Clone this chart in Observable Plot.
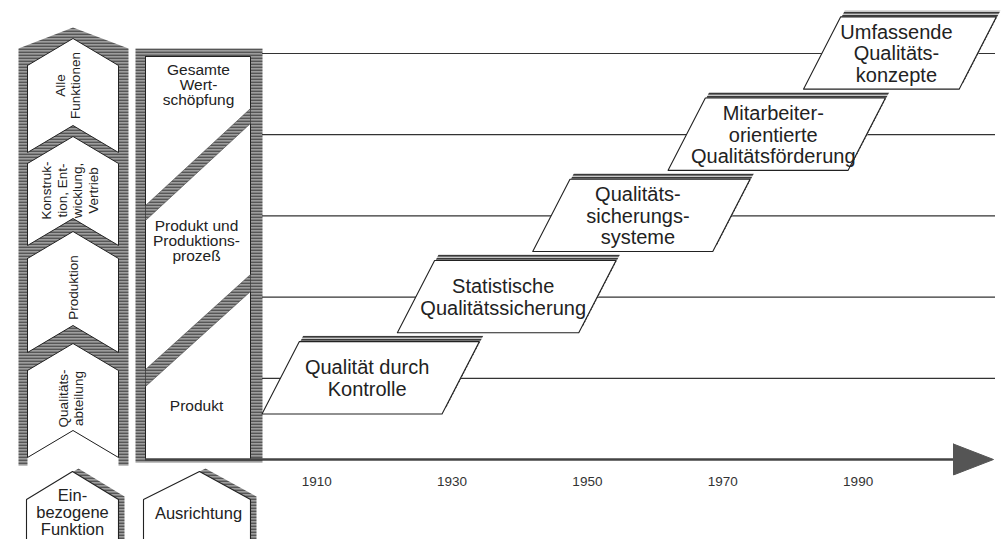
<!DOCTYPE html>
<html>
<head>
<meta charset="utf-8">
<script src="https://cdn.jsdelivr.net/npm/d3@7"></script>
<script src="https://cdn.jsdelivr.net/npm/@observablehq/plot@0.6"></script>
<style>
  html, body { margin: 0; padding: 0; background: #fff; }
  #chart svg { display: block; }
</style>
</head>
<body>
<div id="chart"></div>
<script>
// ---------------- data ----------------
const stageNames = [
  "Qualität durch\nKontrolle",
  "Statistische\nQualitätssicherung",
  "Qualitäts-\nsicherungs-\nsysteme",
  "Mitarbeiter-\norientierte\nQualitätsförderung",
  "Umfassende\nQualitäts-\nkonzepte"
];
const stageStart = [1902, 1922, 1942, 1962, 1982];
const stageEnd   = [1928.6, 1948.8, 1968.6, 1988.6, 2005];
const stageLevel = [1, 2, 3, 4, 5];
const tickYears  = [1910, 1930, 1950, 1970, 1990];
const functionLabels = [
  "Alle\nFunktionen",
  "Konstruk-\ntion, Ent-\nwicklung,\nVertrieb",
  "Produktion",
  "Qualitäts-\nabteilung"
];
const orientationLabels = [
  "Gesamte\nWert-\nschöpfung",
  "Produkt und\nProduktions-\nprozeß",
  "Produkt"
];
const footerLabels = ["Ein-\nbezogene\nFunktion", "Ausrichtung"];

// ---------------- layout ----------------
const W = 1002, H = 539;
const mL = 262, mR = 9, mT = 53, mB = 80;
const xDomain = [1902, 2010], yDomain = [0, 5];
// convert panel layout (pixel units) into the chart's data units
const X = px => xDomain[0] + (px - mL) * (xDomain[1] - xDomain[0]) / (W - mL - mR);
const Y = py => yDomain[0] + (H - mB - py) * (yDomain[1] - yDomain[0]) / (H - mB - mT);

const slant = 5.5;      // years of slant of each parallelogram
const halfH = 0.445;    // half height (levels)
const font = "'Liberation Sans', Arial, Helvetica, sans-serif";
const ink = "#222";

function poly(id, pts) {
  const out = pts.map(([px, py]) => ({id, x: X(px), y: Y(py)}));
  out.push({...out[0]});
  return out;
}

// stage parallelograms
const stages = stageNames.map((name, i) => ({
  name, level: stageLevel[i], from: stageStart[i], to: stageEnd[i],
  mid: (stageStart[i] + stageEnd[i] + slant) / 2
}));
const boxRows = stages.flatMap((s, i) => [
  {id: i, y: s.level - halfH, x1: s.from, x2: s.to},
  {id: i, y: s.level + halfH, x1: s.from + slant, x2: s.to + slant}
]);

// left column: chevrons
const chevTop = [38, 136, 231, 343];
const chevBot = [125, 218, 325, 430];
const notch = 27;
const outerLeft = poly("outerL", [[18,48],[72.5,27],[128,48],[128,465],[118,465],[118,457],[72.5,430],[27,457],[27,465],[18,465]]);
const chevrons = functionLabels.flatMap((_, i) => poly("chev" + i, [
  [27, chevTop[i] + notch], [72.5, chevTop[i]], [118, chevTop[i] + notch],
  [118, chevBot[i] + notch], [72.5, chevBot[i]], [27, chevBot[i] + notch]
]));
const funcText = functionLabels.map((t, i) => ({t, x: X([67, 69, 72, 70][i]), y: Y([85, 190, 287, 398][i])}));

// orientation column
const outerOrient = poly("outerO", [[135,48],[262,48],[262,462],[135,462]]);
const innerOrient = poly("innerO", [[145,56],[250,56],[250,459],[145,459]]);
const bands = [
  ...poly("b1", [[145,205],[250,108],[250,123],[145,220]]),
  ...poly("b2", [[145,369],[250,274],[250,291],[145,386]])
];
const orientText = orientationLabels.map((t, i) => ({t, x: X([198, 196, 196][i]), y: Y([85, 241, 406][i])}));

// footer houses
const houses = [
  ...poly("h1", [[26,560],[26,499],[72,471],[118,499],[118,560]]),
  ...poly("h2", [[143,560],[143,499],[199,471],[250,499],[250,560]])
];
const footText = footerLabels.map((t, i) => ({t, x: X([72, 198][i]), y: Y([512, 513][i])}));

// arrow head of time axis
const arrowHead = [{x: X(953), y: 0.19}, {x: 2010, y: 0}, {x: X(953), y: -0.19}, {x: X(953), y: 0.19}];

const chart = Plot.plot({
  width: W, height: H,
  marginLeft: mL, marginRight: mR, marginTop: mT, marginBottom: mB,
  x: {domain: xDomain, axis: null},
  y: {domain: yDomain, axis: null},
  style: {background: "#fff", fontFamily: font, color: ink},
  marks: [
    // left column
    Plot.line(outerLeft, {x: "x", y: "y", z: "id", fill: "url(#hatch)", stroke: "none", curve: "linear"}),
    Plot.line(chevrons, {x: "x", y: "y", z: "id", fill: "#fff", stroke: ink, strokeWidth: 1, curve: "linear"}),
    // orientation column
    Plot.line(outerOrient, {x: "x", y: "y", z: "id", fill: "url(#hatch)", stroke: "none"}),
    Plot.line(innerOrient, {x: "x", y: "y", z: "id", fill: "#fff", stroke: ink, strokeWidth: 1}),
    Plot.line(bands, {x: "x", y: "y", z: "id", fill: "url(#hatch)", stroke: "#444", strokeWidth: 0.6}),
    // footer houses
    Plot.line(houses, {x: "x", y: "y", z: "id", fill: "url(#hatch)", stroke: "none", dx: 6, dy: -3}),
    Plot.line(houses, {x: "x", y: "y", z: "id", fill: "#fff", stroke: ink, strokeWidth: 1.1}),
    // grid lines per level
    Plot.ruleY(stageLevel, {x1: xDomain[0], x2: X(995), stroke: "#333", strokeWidth: 1.2}),
    // time axis
    Plot.ruleY([0], {x1: X(145), x2: X(955), stroke: "#444", strokeWidth: 2.5}),
    Plot.line(arrowHead, {x: "x", y: "y", fill: "#555", stroke: "#555", strokeWidth: 1}),
    Plot.text(tickYears, {x: d => d, y: 0, dy: 22, text: d => String(d), fontSize: 13.5, fill: "#333"}),
    // stage boxes: shadow + box
    Plot.areaX(boxRows, {y: "y", x1: "x1", x2: "x2", z: "id", fill: "url(#hatch)", stroke: "none", dx: 4, dy: -6}),
    Plot.areaX(boxRows, {y: "y", x1: "x1", x2: "x2", z: "id", fill: "#fff", stroke: ink, strokeWidth: 1.1}),
    Plot.text(stages, {x: "mid", y: "level", text: "name", dx: -4, fontSize: 20, lineHeight: 1.08, fill: ink}),
    // labels
    Plot.text(funcText, {x: "x", y: "y", text: "t", rotate: -90, fontSize: 13.5, lineHeight: 1.17, fill: ink}),
    Plot.text(orientText, {x: "x", y: "y", text: "t", fontSize: 15.5, lineHeight: 0.97, fill: ink}),
    Plot.text(footText, {x: "x", y: "y", text: "t", fontSize: 16.5, lineHeight: 1.03, fill: ink})
  ]
});

// hatch pattern used by the shaded parts
const defs = d3.select(chart).insert("defs", ":first-child");
const pat = defs.append("pattern").attr("id", "hatch")
  .attr("patternUnits", "userSpaceOnUse").attr("width", 6).attr("height", 3);
pat.append("rect").attr("width", 6).attr("height", 3).attr("fill", "#c8c8c8");
pat.append("rect").attr("width", 6).attr("height", 1.6).attr("fill", "#3a3a3a");

document.getElementById("chart").append(chart);
</script>
</body>
</html>
